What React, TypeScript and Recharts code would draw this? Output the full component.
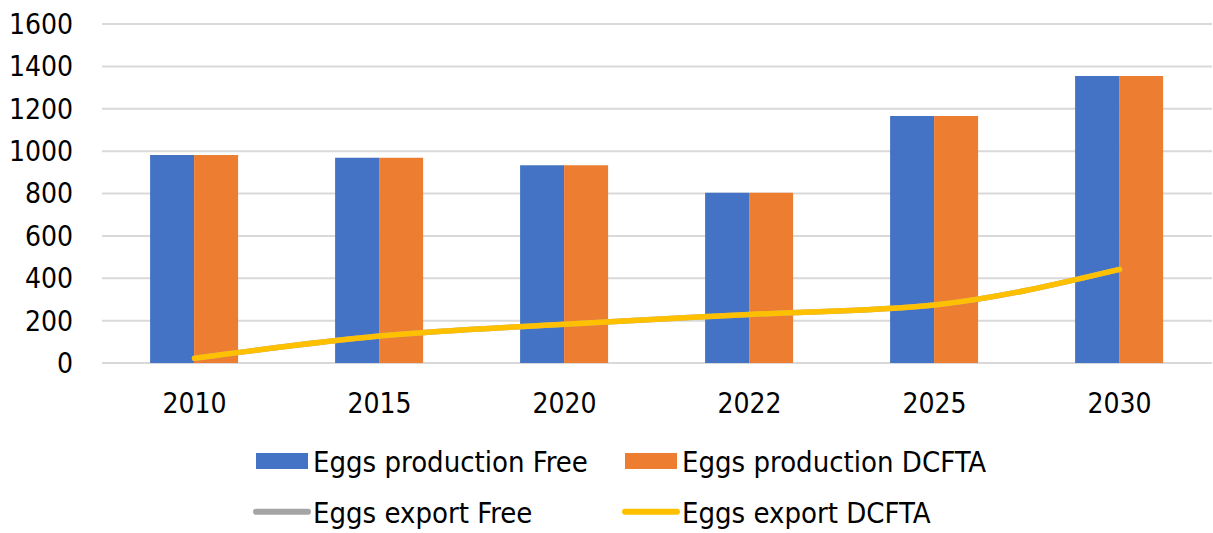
import React from 'react';
import { ComposedChart, Bar, Line, XAxis, YAxis, CartesianGrid, Legend } from 'recharts';

const years = ['2010', '2015', '2020', '2022', '2025', '2030'];
const productionFree = [982, 969, 933, 804, 1166, 1355];
const productionDCFTA = [982, 969, 933, 804, 1166, 1355];
const exportFree = [22, 127, 183, 229, 274, 442];
const exportDCFTA = [22, 127, 183, 229, 274, 442];
const yTicks = [0, 200, 400, 600, 800, 1000, 1200, 1400, 1600];

const data = years.map((y, i) => ({
  year: y,
  prodFree: productionFree[i],
  prodDCFTA: productionDCFTA[i],
  expFree: exportFree[i],
  expDCFTA: exportDCFTA[i],
}));

const FONT = '"DejaVu Sans Condensed", "Liberation Sans", sans-serif';

const legendSlots: Record<string, { x: number; row: number; kind: 'rect' | 'line' }> = {
  prodFree: { x: 256, row: 0, kind: 'rect' },
  prodDCFTA: { x: 625, row: 0, kind: 'rect' },
  expFree: { x: 256, row: 1, kind: 'line' },
  expDCFTA: { x: 625, row: 1, kind: 'line' },
};

const CustomLegend = (props: any) => {
  const payload = props.payload || [];
  return (
    <svg width={1213} height={93} style={{ display: 'block' }}>
      {payload.map((p: any) => {
        const slot = legendSlots[p.dataKey];
        if (!slot) return null;
        const base = slot.row === 0 ? 32 : 83;
        return (
          <g key={p.dataKey}>
            {slot.kind === 'rect' ? (
              <rect x={slot.x} y={13} width={52} height={16} fill={p.color} />
            ) : (
              <line x1={slot.x} x2={slot.x + 52} y1={71.7} y2={71.7} stroke={p.color} strokeWidth={6} strokeLinecap="round" />
            )}
            <text x={slot.x + 57} y={base} fontFamily={FONT} fontSize={29} fill="#000">
              {p.value}
            </text>
          </g>
        );
      })}
    </svg>
  );
};

export default function App() {
  return (
    <div style={{ position: 'absolute', left: 0, top: 0, width: 1213, height: 533, background: '#fff' }}>
      <ComposedChart
        width={1213}
        height={533}
        data={data}
        margin={{ top: 24, right: 1, left: 0, bottom: 130 }}
        barCategoryGap="26%"
        barGap={0}
      >
        <CartesianGrid vertical={false} stroke="#d9d9d9" strokeWidth={2} />
        <XAxis
          dataKey="year"
          axisLine={false}
          tickLine={false}
          tickSize={0}
          tickMargin={30}
          height={40}
          tick={{ fill: '#000', fontSize: 28, fontFamily: FONT }}
          interval={0}
        />
        <YAxis
          domain={[0, 1600]}
          ticks={yTicks}
          axisLine={false}
          tickLine={false}
          tickSize={0}
          tickMargin={29}
          width={102}
          tick={{ fill: '#000', fontSize: 28, fontFamily: FONT }}
          interval={0}
        />
        <Bar dataKey="prodFree" name="Eggs production Free" fill="#4472C4" isAnimationActive={false} />
        <Bar dataKey="prodDCFTA" name="Eggs production DCFTA" fill="#ED7D31" isAnimationActive={false} />
        <Line dataKey="expFree" name="Eggs export Free" type="monotone" stroke="#A5A5A5" strokeWidth={5.5} dot={false} activeDot={false} strokeLinecap="round" isAnimationActive={false} />
        <Line dataKey="expDCFTA" name="Eggs export DCFTA" type="monotone" stroke="#FFC000" strokeWidth={5.5} dot={false} activeDot={false} strokeLinecap="round" isAnimationActive={false} />
        <Legend
          layout="horizontal"
          verticalAlign="middle"
          align="center"
          content={<CustomLegend />}
          wrapperStyle={{ top: 440, left: 0, width: 1213, height: 93 }}
        />
      </ComposedChart>
    </div>
  );
}
